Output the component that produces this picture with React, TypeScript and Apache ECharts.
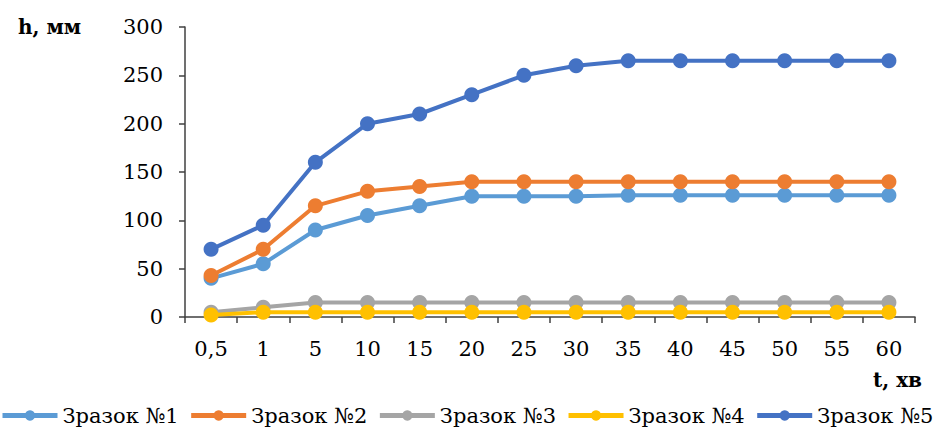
import React, { useEffect, useRef } from "react";
import * as echarts from "echarts";

const categories = ["0,5", "1", "5", "10", "15", "20", "25", "30", "35", "40", "45", "50", "55", "60"];
const seriesNames = ["Зразок №1", "Зразок №2", "Зразок №3", "Зразок №4", "Зразок №5"];
const s1 = [40, 55, 90, 105, 115, 125, 125, 125, 126, 126, 126, 126, 126, 126];
const s2 = [43, 70, 115, 130, 135, 140, 140, 140, 140, 140, 140, 140, 140, 140];
const s3 = [5, 10, 15, 15, 15, 15, 15, 15, 15, 15, 15, 15, 15, 15];
const s4 = [2, 5, 5, 5, 5, 5, 5, 5, 5, 5, 5, 5, 5, 5];
const s5 = [70, 95, 160, 200, 210, 230, 250, 260, 265, 265, 265, 265, 265, 265];
const colors = ["#5B9BD5", "#ED7D31", "#A5A5A5", "#FFC000", "#4472C4"];
const yTicks = { min: 0, max: 300, interval: 50 };

const FONT = "DejaVu Serif";

export default function App() {
  const ref = useRef<HTMLDivElement>(null);
  useEffect(() => {
    if (!ref.current) return;
    const chart = echarts.init(ref.current, undefined, { renderer: "svg" });
    const data = [s1, s2, s3, s4, s5];
    chart.setOption({
      animation: false,
      textStyle: { fontFamily: FONT },
      grid: { left: 185, right: 29, top: 27, bottom: 112, containLabel: false },
      legend: {
        bottom: 3,
        left: 0,
        width: 944,
        padding: 0,
        itemWidth: 55,
        itemHeight: 13,
        itemGap: 10,
        lineStyle: { width: 5 },
        textStyle: { fontFamily: FONT, fontSize: 21, color: "#000" },
        data: seriesNames,
      },
      graphic: [
        {
          type: "text",
          left: 18,
          top: 17,
          style: { text: "h, мм", fontFamily: FONT, fontWeight: "bold", fontSize: 20, fill: "#000" },
        },
        {
          type: "text",
          right: 22,
          top: 370,
          style: { text: "t, хв", fontFamily: FONT, fontWeight: "bold", fontSize: 20, fill: "#000" },
        },
      ],
      xAxis: {
        type: "category",
        data: categories,
        boundaryGap: true,
        axisLine: { lineStyle: { color: "#404040", width: 1.5 } },
        axisTick: { show: true, length: 6, inside: false, lineStyle: { color: "#404040", width: 1.5 } },
        axisLabel: { color: "#000", fontSize: 21, fontFamily: FONT, margin: 21 },
        splitLine: { show: false },
      },
      yAxis: {
        type: "value",
        min: yTicks.min,
        max: yTicks.max,
        interval: yTicks.interval,
        axisLine: { show: true, lineStyle: { color: "#404040", width: 1.5 } },
        axisTick: { show: true, length: 6, lineStyle: { color: "#404040", width: 1.5 } },
        axisLabel: { color: "#000", fontSize: 21, fontFamily: FONT, margin: 22 },
        splitLine: { show: false },
      },
      series: seriesNames.map((name, i) => ({
        name,
        type: "line",
        data: data[i],
        symbol: "circle",
        symbolSize: 15,
        color: colors[i],
        lineStyle: { width: 4, color: colors[i] },
        itemStyle: { color: colors[i] },
        z: 2 + i,
      })),
    });
    return () => chart.dispose();
  }, []);
  return (
    <div
      ref={ref}
      style={{ position: "fixed", left: 0, top: 0, width: 944, height: 429, background: "#fff" }}
    />
  );
}
